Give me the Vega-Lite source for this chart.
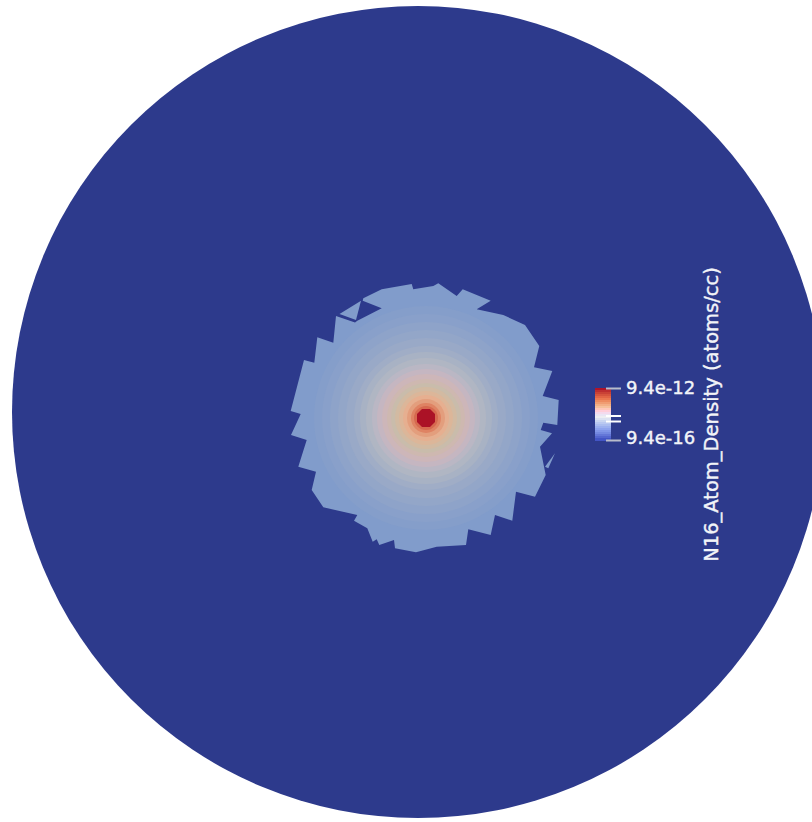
{"$schema":"https://vega.github.io/schema/vega-lite/v6.json","width":812,"height":822,"padding":0,"autosize":{"type":"none"},"background":"#ffffff","config":{"view":{"stroke":null}},"projection":{"type":"identity","scale":1,"translate":[0,0]},"resolve":{"scale":{"color":"independent"}},"layer":[
{"data":{"values":[{"cx":418,"cy":412,"radius":406,"density":9.4e-16}]},"mark":{"type":"circle","opacity":1},"encoding":{"longitude":{"field":"cx","type":"quantitative"},"latitude":{"field":"cy","type":"quantitative"},"size":{"field":"radius","type":"quantitative","scale":{"type":"pow","exponent":2,"domain":[0,406],"range":[0,659344]},"legend":null},"color":{"field":"density","type":"quantitative","legend":null,"scale":{"type":"log","domain":[9.4e-16,1.5e-15,1e-14,5e-14,2e-13,1e-12,9.4e-12],"range":["#2d3a8c","#819ccb","#b3b8c2","#c9bcab","#e6b294","#dd7558","#ab1226"]}}}},
{"data":{"values":[
{"type":"Feature","density":1.5e-15,"geometry":{"type":"Polygon","coordinates":[[[363.3,298.3],[381.7,289.3],[411.7,284],[413.3,289.3],[433.3,286],[438.3,283.3],[456.7,296],[462.7,289.3],[490.7,300.7],[476.7,309.3],[503.3,315],[525,325],[539.3,346],[534,367.3],[552.3,371],[542.7,396],[558.7,400],[557.3,425],[543.3,422.7],[540.7,430],[552,433.3],[540,446.7],[545.7,475],[535,496.7],[516,491.7],[512.3,520.7],[495,515],[490.7,535],[468.3,529.3],[466,545],[436.7,546.7],[416,552.3],[395,548.3],[394,540],[379.3,545],[376.7,539.3],[372.7,541.7],[367.3,528.3],[354,520.7],[357.3,515],[323.3,507.3],[311.7,490],[316,471.7],[298.3,466.7],[306.7,440],[291,435],[300.7,414],[290.7,411],[304,360],[314.3,362.7],[317.3,337.3],[333.3,342.7],[336,316],[355,322.5],[357.3,320.7],[381.7,308.3],[362.7,300.7],[363.3,298.3]]]}},
{"type":"Feature","density":1.5e-15,"geometry":{"type":"Polygon","coordinates":[[[339.5,314],[361,300.7],[356,320],[339.5,314]]]}},
{"type":"Feature","density":1.5e-15,"geometry":{"type":"Polygon","coordinates":[[[545,466.7],[555,453.3],[548.3,468.3],[545,466.7]]]}}
]},"mark":{"type":"geoshape"},"encoding":{"color":{"field":"density","type":"quantitative","legend":null,"scale":{"type":"log","domain":[9.4e-16,1.5e-15,1e-14,5e-14,2e-13,1e-12,9.4e-12],"range":["#2d3a8c","#819ccb","#b3b8c2","#c9bcab","#e6b294","#dd7558","#ab1226"]}}}},
{"data":{"values":[
{"cx":426,"cy":418,"radius":112,"density":1.7e-15},
{"cx":426,"cy":418,"radius":104,"density":2e-15},
{"cx":426,"cy":418,"radius":96,"density":2.4e-15},
{"cx":426,"cy":418,"radius":88,"density":2.9e-15},
{"cx":426,"cy":418,"radius":80,"density":3.6e-15},
{"cx":426,"cy":418,"radius":72,"density":4.8e-15},
{"cx":426,"cy":418,"radius":66,"density":6.5e-15},
{"cx":426,"cy":418,"radius":60,"density":9e-15},
{"cx":426,"cy":418,"radius":54,"density":1.3e-14},
{"cx":426,"cy":418,"radius":49,"density":1.9e-14},
{"cx":426,"cy":418,"radius":44,"density":2.7e-14},
{"cx":426,"cy":418,"radius":39,"density":3.8e-14},
{"cx":426,"cy":418,"radius":35,"density":5e-14},
{"cx":426,"cy":418,"radius":31,"density":8e-14},
{"cx":426,"cy":418,"radius":27,"density":1.3e-13},
{"cx":426,"cy":418,"radius":23,"density":2.2e-13},
{"cx":426,"cy":418,"radius":19,"density":3.5e-13},
{"cx":426,"cy":418,"radius":15,"density":7e-13},
{"cx":426,"cy":418,"radius":12,"density":1.4e-12}
]},"mark":{"type":"circle","opacity":1},"encoding":{"longitude":{"field":"cx","type":"quantitative"},"latitude":{"field":"cy","type":"quantitative"},"order":{"field":"radius","type":"quantitative","sort":"descending"},"size":{"field":"radius","type":"quantitative","scale":{"type":"pow","exponent":2,"domain":[0,406],"range":[0,659344]},"legend":null},"color":{"field":"density","type":"quantitative","legend":null,"scale":{"type":"log","domain":[9.4e-16,1.5e-15,1e-14,5e-14,2e-13,1e-12,9.4e-12],"range":["#2d3a8c","#819ccb","#b3b8c2","#c9bcab","#e6b294","#dd7558","#ab1226"]}}}},
{"data":{"values":[{"type":"Feature","density":9.4e-12,"geometry":{"type":"Polygon","coordinates":[[[422,409],[430,409],[435,414],[435,422],[430,427],[422,427],[417,422],[417,414],[422,409]]]}}]},"mark":{"type":"geoshape"},"encoding":{"color":{"field":"density","type":"quantitative","legend":null,"scale":{"type":"log","domain":[9.4e-16,1.5e-15,1e-14,5e-14,2e-13,1e-12,9.4e-12],"range":["#2d3a8c","#819ccb","#b3b8c2","#c9bcab","#e6b294","#dd7558","#ab1226"]}}}},
{"data":{"values":[
{"a":595,"b":611,"top":388,"bottom":390,"level":4.0},{"a":595,"b":611,"top":390,"bottom":392,"level":3.85},{"a":595,"b":611,"top":392,"bottom":394,"level":3.7},{"a":595,"b":611,"top":394,"bottom":396,"level":3.55},{"a":595,"b":611,"top":396,"bottom":398,"level":3.4},{"a":595,"b":611,"top":398,"bottom":400,"level":3.25},{"a":595,"b":611,"top":400,"bottom":402,"level":3.1},{"a":595,"b":611,"top":402,"bottom":404,"level":2.95},{"a":595,"b":611,"top":404,"bottom":406,"level":2.8},{"a":595,"b":611,"top":406,"bottom":408,"level":2.65},{"a":595,"b":611,"top":408,"bottom":410,"level":2.5},{"a":595,"b":611,"top":410,"bottom":412,"level":2.35},{"a":595,"b":611,"top":412,"bottom":414,"level":2.2},{"a":595,"b":611,"top":414,"bottom":416,"level":2.05},{"a":595,"b":611,"top":416,"bottom":418,"level":1.9},{"a":595,"b":611,"top":418,"bottom":420,"level":1.75},{"a":595,"b":611,"top":420,"bottom":422,"level":1.6},{"a":595,"b":611,"top":422,"bottom":424,"level":1.45},{"a":595,"b":611,"top":424,"bottom":426,"level":1.3},{"a":595,"b":611,"top":426,"bottom":428,"level":1.15},{"a":595,"b":611,"top":428,"bottom":430,"level":1.0},{"a":595,"b":611,"top":430,"bottom":432,"level":0.85},{"a":595,"b":611,"top":432,"bottom":434,"level":0.7},{"a":595,"b":611,"top":434,"bottom":436,"level":0.5},{"a":595,"b":611,"top":436,"bottom":438,"level":0.3},{"a":595,"b":611,"top":438,"bottom":441,"level":0.1}
]},"mark":{"type":"rect"},"encoding":{"x":{"field":"a","type":"quantitative","scale":{"domain":[0,812],"range":[0,812]},"axis":null},"x2":{"field":"b"},"y":{"field":"top","type":"quantitative","scale":{"domain":[0,822],"range":[0,822]},"axis":null},"y2":{"field":"bottom"},"color":{"field":"level","type":"quantitative","legend":null,"scale":{"domain":[0,1,1.9,2.6,3.3,4],"range":["#3b4cc0","#8ea3ee","#eceef2","#f6c6a3","#e9704a","#b0142a"]}}}},
{"data":{"values":[{"a":606,"b":621,"y":388.5,"k":"end"},{"a":606,"b":621,"y":440.5,"k":"end"},{"a":606,"b":621,"y":416,"k":"mid"},{"a":606,"b":621,"y":421.5,"k":"mid"}]},"mark":{"type":"rule","strokeWidth":2},"encoding":{"x":{"field":"a","type":"quantitative","scale":{"domain":[0,812],"range":[0,812]},"axis":null},"x2":{"field":"b"},"y":{"field":"y","type":"quantitative","scale":{"domain":[0,822],"range":[0,822]},"axis":null},"color":{"field":"k","type":"nominal","legend":null,"scale":{"domain":["end","mid"],"range":["#b9bccb","#ffffff"]}}}},
{"data":{"values":[{"x":626,"y":389,"label":"9.4e-12"},{"x":626,"y":439,"label":"9.4e-16"}]},"mark":{"type":"text","align":"left","baseline":"middle","font":"DejaVu Sans","fontSize":18,"color":"#f2f4f8","stroke":"#f2f4f8","strokeWidth":0.4},"encoding":{"x":{"field":"x","type":"quantitative","scale":{"domain":[0,812],"range":[0,812]},"axis":null},"y":{"field":"y","type":"quantitative","scale":{"domain":[0,822],"range":[0,822]},"axis":null},"text":{"field":"label"}}},
{"data":{"values":[{"x":712,"y":414.5,"label":"N16_Atom_Density (atoms/cc)"}]},"mark":{"type":"text","align":"center","baseline":"middle","angle":270,"font":"DejaVu Sans","fontSize":19.5,"color":"#f2f4f8","stroke":"#f2f4f8","strokeWidth":0.4},"encoding":{"x":{"field":"x","type":"quantitative","scale":{"domain":[0,812],"range":[0,812]},"axis":null},"y":{"field":"y","type":"quantitative","scale":{"domain":[0,822],"range":[0,822]},"axis":null},"text":{"field":"label"}}}
]}
